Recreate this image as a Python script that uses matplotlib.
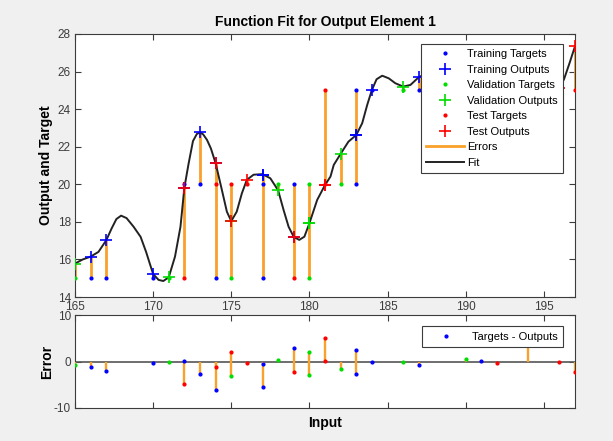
import numpy as np
import matplotlib.pyplot as plt
from matplotlib.lines import Line2D

plt.rcParams['font.family'] = ['Liberation Sans', 'DejaVu Sans']
plt.rcParams['axes.unicode_minus'] = False

# samples: input, target, output of the net, and which set the sample belongs to
sample_x = [165, 166, 167, 170, 171, 172, 172, 173, 174, 174, 175, 175, 176, 177, 177,
            178, 179, 179, 180, 180, 181, 181, 182, 183, 183, 184, 186, 187, 190, 191,
            192, 194, 196, 197]
sample_t = [15, 15, 15, 15, 15, 20, 15, 20, 20, 15, 20, 15, 20, 20, 15,
            20, 20, 15, 20, 15, 25, 20, 20, 25, 20, 25, 25, 25, 25, 25,
            25, 25, 25, 25]
sample_y = [15.78, 16.15, 17.02, 15.22, 15.05, 19.82, 19.82, 22.76, 21.12, 21.12, 18.04, 18.04,
            20.24, 20.52, 20.52, 19.68, 17.2, 17.2, 17.92, 17.92, 19.96, 19.96, 21.62, 22.62,
            22.62, 25.02, 25.2, 25.7, 24.5, 24.85, 25.4, 21.2, 25.1, 27.35]
sample_set = ['val', 'train', 'train', 'train', 'val', 'train', 'test', 'train', 'test', 'train',
              'test', 'val', 'test', 'train', 'train', 'val', 'train', 'test', 'val', 'val',
              'test', 'test', 'val', 'train', 'train', 'train', 'val', 'train', 'val', 'train',
              'test', 'train', 'test', 'test']

# fitted curve
fit_x = [165.0, 165.5, 166.0, 166.5, 167.0, 167.35, 167.65, 167.95, 168.3, 168.75, 169.2, 169.55,
         170.0, 170.35, 170.65, 171.0, 171.4, 171.75, 172.0, 172.27, 172.55, 172.8, 173.0, 173.2,
         173.45, 173.7, 174.0, 174.4, 174.72, 175.0, 175.35, 175.68, 176.0, 176.43, 177.0, 177.5,
         178.0, 178.35, 178.67, 179.0, 179.35, 179.68, 180.0, 180.5, 181.0, 181.35, 181.56, 182.0,
         182.5, 183.0, 183.38, 183.7, 184.0, 184.3, 184.66, 185.08, 185.5, 186.0, 186.47, 187.0,
         187.5, 188.0, 189.0, 190.0, 191.0, 192.0, 193.0, 194.0, 195.0, 196.0, 196.3, 196.65, 197.0]
fit_y = [15.78, 16.0, 16.15, 16.4, 17.02, 17.66, 18.15, 18.33, 18.2, 17.74, 17.2, 16.4,
         15.22, 14.91, 14.85, 15.05, 16.15, 17.74, 19.82, 21.1, 22.3, 22.68, 22.76, 22.66,
         22.36, 21.9, 21.12, 19.7, 18.54, 18.04, 18.54, 19.52, 20.24, 20.51, 20.54, 20.32,
         19.68, 18.63, 17.74, 17.2, 17.04, 17.21, 17.92, 19.17, 19.96, 20.41, 21.03, 21.62,
         22.27, 22.62, 23.25, 24.22, 25.02, 25.59, 25.78, 25.64, 25.38, 25.2, 25.29, 25.7,
         25.9, 25.6, 24.9, 24.5, 24.85, 25.4, 24.0, 21.2, 23.0, 25.1, 25.6, 26.45, 27.35]

x_ticks = [165, 170, 175, 180, 185, 190, 195]
y_ticks = [14, 16, 18, 20, 22, 24, 26, 28]
err_ticks = [-10, 0, 10]

set_names = ['train', 'val', 'test']
set_labels = ['Training', 'Validation', 'Test']
set_colors = ['#0000ff', '#00dd00', '#ff0000']
err_color = '#f9a12b'
fit_color = '#222222'
axis_color = '#3c3c3c'

sx = np.array(sample_x)
st = np.array(sample_t)
sy = np.array(sample_y)
ss = np.array(sample_set)
err = st - sy

fig = plt.figure(figsize=(6.13, 4.41), dpi=100, facecolor='#f0f0f0')
ax = fig.add_axes([75 / 613, 1 - 297 / 441, 500 / 613, 263 / 441])
ax2 = fig.add_axes([75 / 613, 1 - 408 / 441, 500 / 613, 93 / 441])

# top: targets, outputs, errors and fit
ax.vlines(sx, st, sy, color=err_color, lw=2, zorder=2)
ax.plot(fit_x, fit_y, color=fit_color, lw=1.4, zorder=3)
handles = []
for name, lab, col in zip(set_names, set_labels, set_colors):
    m = ss == name
    ax.plot(sx[m], st[m], '.', color=col, ms=4, zorder=4)
    ax.plot(sx[m], sy[m], '+', color=col, ms=8, mew=1.2, zorder=5)
    handles.append(Line2D([], [], ls='none', marker='.', color=col, ms=4, label=lab + ' Targets'))
    handles.append(Line2D([], [], ls='none', marker='+', color=col, ms=8, mew=1.2, label=lab + ' Outputs'))
handles.append(Line2D([], [], color=err_color, lw=2, label='Errors'))
handles.append(Line2D([], [], color=fit_color, lw=1.4, label='Fit'))

ax.set_xlim(165, 197)
ax.set_ylim(14, 28)
ax.set_xticks(x_ticks)
ax.set_yticks(y_ticks)
ax.set_title('Function Fit for Output Element 1', fontsize=10, fontweight='bold', pad=6)
ax.set_ylabel('Output and Target', fontsize=10, fontweight='bold', labelpad=3)
leg = ax.legend(handles=handles, loc='upper right', bbox_to_anchor=(0.976, 0.962), borderaxespad=0,
                fontsize=8, handlelength=3.4, handletextpad=0.3, labelspacing=0.5,
                frameon=True, fancybox=False, framealpha=1, edgecolor=axis_color, borderpad=0.45)
leg.get_frame().set_linewidth(0.8)
leg.set_zorder(10)

# bottom: errors
ax2.axhline(0, color='#555555', lw=1.2, zorder=2)
ax2.vlines(sx, 0, err, color=err_color, lw=1.7, zorder=3)
for name, col in zip(set_names, set_colors):
    m = ss == name
    ax2.plot(sx[m], err[m], '.', color=col, ms=4, zorder=4)
eh = [Line2D([], [], ls='none', marker='.', color='#0000ff', ms=4, label='Targets - Outputs')]
leg2 = ax2.legend(handles=eh, loc='upper right', bbox_to_anchor=(0.976, 0.882), borderaxespad=0,
                  fontsize=8, handlelength=3.4, handletextpad=0.6, frameon=True, fancybox=False,
                  framealpha=1, edgecolor=axis_color, borderpad=0.5)
leg2.get_frame().set_linewidth(0.8)
leg2.set_zorder(10)
ax2.set_xlim(165, 197)
ax2.set_ylim(-10, 10)
ax2.set_xticks(x_ticks)
ax2.set_xticklabels([])
ax2.set_yticks(err_ticks)
ax2.set_ylabel('Error', fontsize=10, fontweight='bold', labelpad=0)
ax2.set_xlabel('Input', fontsize=10, fontweight='bold', labelpad=3)

for a in (ax, ax2):
    a.tick_params(direction='in', top=True, right=True, length=4, width=0.8,
                  labelsize=8.5, colors=axis_color, pad=3)
    for sp in a.spines.values():
        sp.set_color(axis_color)
        sp.set_linewidth(0.8)

fig.savefig('out.png', dpi=100, facecolor=fig.get_facecolor())
